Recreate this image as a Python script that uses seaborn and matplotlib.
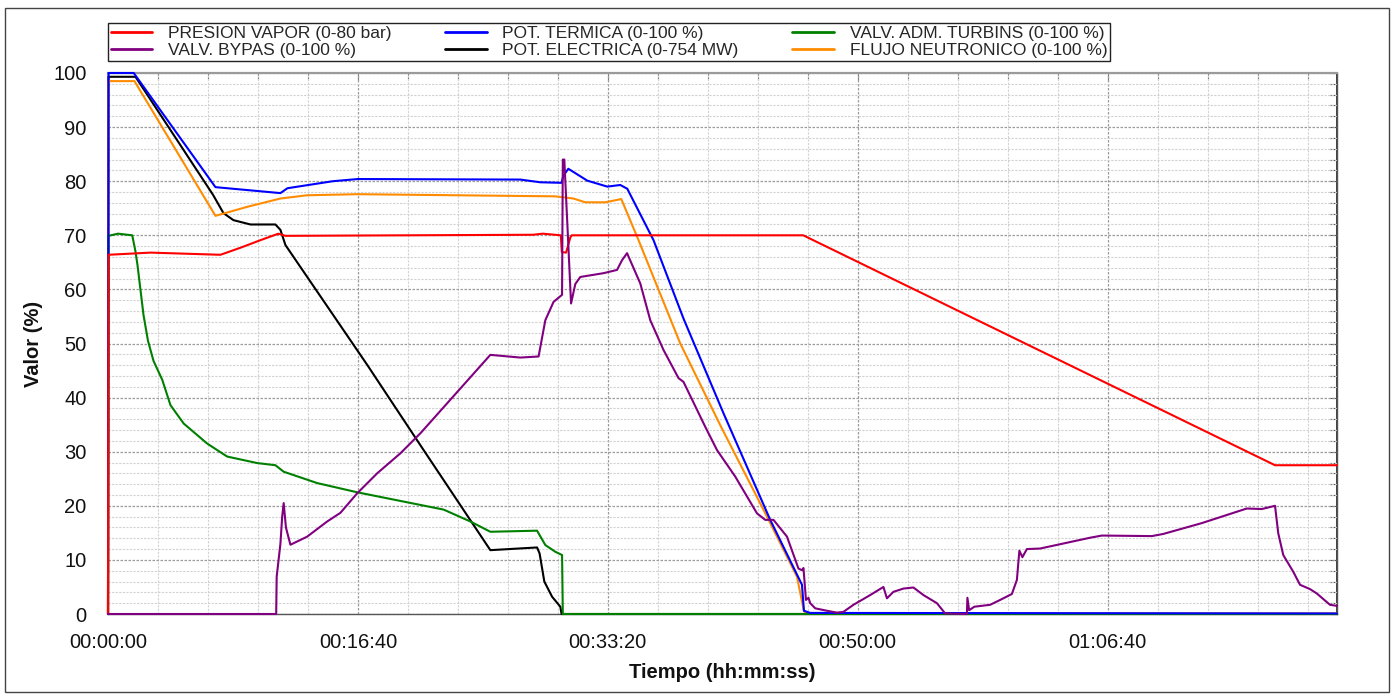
import matplotlib
matplotlib.use("Agg")
import matplotlib.pyplot as plt
import pandas as pd
import seaborn as sns
from matplotlib.ticker import MultipleLocator, FuncFormatter
from matplotlib.patches import Rectangle

# ---------------- data (time in s, value in %) ----------------
PRESION_VAPOR = [(0, 0), (2, 66.4), (170, 66.8), (450, 66.4), (530, 67.7), (610, 69.1),
                 (682, 70.3), (710, 69.9), (1700, 70.1), (1740, 70.3), (1812, 70.0),
                 (1816, 66.9), (1833, 66.8), (1850, 69.6), (1856, 70.0), (2782, 70.0),
                 (4670, 27.5), (4918, 27.5)]

POT_TERMICA = [(0, 0), (2, 100), (103, 100), (430, 78.9), (690, 77.8), (718, 78.7),
               (900, 80.0), (1000, 80.4), (1650, 80.3), (1730, 79.8), (1815, 79.7),
               (1822, 81.0), (1842, 82.3), (1918, 80.1), (1998, 79.0), (2050, 79.3),
               (2078, 78.6), (2183, 69.1), (2303, 54.6), (2463, 37.1), (2650, 17.4),
               (2777, 5.4), (2785, 0.6), (2810, 0.2), (4918, 0.1)]

VALV_TURBINS = [(0, 0), (2, 69.9), (40, 70.3), (97, 70.0), (110, 67.0), (118, 64.5),
                (142, 55.3), (160, 50.5), (182, 46.8), (217, 43.3), (250, 38.6),
                (303, 35.2), (397, 31.5), (477, 29.1), (597, 27.9), (670, 27.5),
                (703, 26.3), (837, 24.2), (997, 22.5), (1170, 20.9), (1343, 19.3),
                (1450, 17.1), (1530, 15.2), (1717, 15.4), (1750, 12.75), (1790, 11.5),
                (1817, 10.9), (1820, 0), (4918, 0)]

VALV_BYPAS = [(0, 0), (673, 0), (675, 6.9), (690, 13.0), (697, 18.0), (703, 20.5),
              (712, 16.0), (730, 12.8), (797, 14.3), (877, 17.1), (930, 18.7),
              (997, 22.3), (1077, 26.0), (1170, 29.7), (1250, 33.4), (1530, 47.9),
              (1650, 47.4), (1723, 47.6), (1750, 54.3), (1783, 57.7), (1817, 59.0),
              (1820, 84.0), (1826, 84.0), (1853, 57.4), (1870, 61.0), (1890, 62.3),
              (1983, 63.0), (2037, 63.6), (2057, 65.4), (2077, 66.7), (2130, 61.1),
              (2170, 54.3), (2223, 48.8), (2283, 43.6), (2303, 42.9), (2390, 34.6),
              (2437, 30.3), (2510, 25.4), (2597, 18.6), (2630, 17.4), (2663, 17.4),
              (2717, 14.3), (2763, 8.4), (2777, 8.1), (2783, 8.5), (2793, 2.6),
              (2803, 3.0), (2810, 2.0), (2830, 1.05), (2877, 0.6), (2917, 0.25),
              (2943, 0.4), (2983, 1.7), (3050, 3.5), (3103, 5.0), (3117, 2.9),
              (3143, 4.1), (3183, 4.7), (3223, 4.9), (3263, 3.5), (3317, 2.0),
              (3350, 0.1), (3437, 0.0), (3439, 3.0), (3446, 0.7), (3467, 1.35),
              (3530, 1.7), (3570, 2.6), (3617, 3.7), (3637, 6.3), (3647, 11.7),
              (3659, 10.5), (3677, 12.0), (3730, 12.1), (3930, 14.1), (3977, 14.5),
              (4177, 14.4), (4223, 14.8), (4377, 16.8), (4477, 18.3), (4557, 19.5),
              (4617, 19.4), (4670, 20.0), (4683, 14.9), (4703, 10.9), (4743, 7.8),
              (4770, 5.4), (4810, 4.6), (4837, 3.8), (4890, 1.7), (4918, 1.5)]

POT_ELECTRICA = [(0, 0), (2, 99.3), (110, 99.3), (420, 77.5), (462, 74.1), (502, 72.8),
                 (570, 72.0), (670, 72.0), (690, 71.0), (710, 68.2), (1038, 46.0),
                 (1250, 31.2), (1530, 11.8), (1717, 12.3), (1727, 11.2), (1746, 6.0),
                 (1777, 3.2), (1810, 1.35), (1815, 0), (4918, 0)]

FLUJO_NEUTRONICO = [(0, 0), (2, 98.5), (106, 98.5), (430, 73.6), (560, 75.3), (690, 76.8),
                    (797, 77.4), (1000, 77.6), (1790, 77.2), (1862, 76.8), (1910, 76.1),
                    (1990, 76.1), (2054, 76.7), (2123, 69.1), (2290, 50.0), (2450, 34.9),
                    (2637, 18.0), (2757, 6.9), (2785, 0.5), (2800, 0.1), (4918, 0.1)]

LABELS = {
    "pv": "PRESION VAPOR (0-80 bar)",
    "bp": "VALV. BYPAS (0-100 %)",
    "pt": "POT. TERMICA (0-100 %)",
    "pe": "POT. ELECTRICA (0-754 MW)",
    "vt": "VALV. ADM. TURBINS (0-100 %)",
    "fn": "FLUJO NEUTRONICO (0-100 %)",
}

# draw order (bottom -> top)
series = [
    ("pe", POT_ELECTRICA, "#000000"),
    ("fn", FLUJO_NEUTRONICO, "#ff8c00"),
    ("vt", VALV_TURBINS, "#008000"),
    ("pt", POT_TERMICA, "#0000ff"),
    ("pv", PRESION_VAPOR, "#ff0000"),
    ("bp", VALV_BYPAS, "#800080"),
]
legend_order = ["pv", "bp", "pt", "pe", "vt", "fn"]

sns.set_theme(style="white")
plt.rcParams["font.family"] = ["Liberation Sans", "DejaVu Sans"]

W, H = 1397, 694
fig = plt.figure(figsize=(W / 100, H / 100), dpi=100)
L, R, T, B = 108, 1337, 73, 614
ax = fig.add_axes([L / W, 1 - B / H, (R - L) / W, (B - T) / H])

handles = {}
for i, (key, data, color) in enumerate(series):
    df = pd.DataFrame(data, columns=["t", "v"])
    sns.lineplot(data=df, x="t", y="v", ax=ax, color=color, linewidth=1.5,
                 estimator=None, sort=False, label=LABELS[key], clip_on=False,
                 zorder=3 + i * 0.1)
    handles[key] = ax.get_lines()[-1]

if ax.get_legend() is not None:
    ax.get_legend().remove()

ax.set_xlim(0, 4918)
ax.set_ylim(0, 100)
ax.xaxis.set_major_locator(MultipleLocator(1000))
ax.xaxis.set_minor_locator(MultipleLocator(200))
ax.yaxis.set_major_locator(MultipleLocator(10))
ax.yaxis.set_minor_locator(MultipleLocator(2))


def hms(x, pos):
    s = int(round(x))
    return f"{s // 3600:02d}:{(s % 3600) // 60:02d}:{s % 60:02d}"


ax.xaxis.set_major_formatter(FuncFormatter(hms))

ax.grid(which="minor", color="#d2d2d2", linestyle=(0, (2, 1.2)), linewidth=0.8)
ax.grid(which="major", color="#9c9c9c", linestyle=(0, (2, 1.2)), linewidth=0.9)
ax.set_axisbelow(True)

ax.tick_params(axis="x", which="major", direction="inout", length=9, width=1,
               color="#333333", labelsize=14.5, pad=9, labelcolor="#111111")
ax.tick_params(axis="y", which="major", direction="inout", length=9, width=1,
               color="#333333", labelsize=14.5, pad=11, labelcolor="#111111")
ax.tick_params(which="minor", direction="inout", length=5, width=0.8, color="#333333")

for side in ["left", "bottom", "right"]:
    ax.spines[side].set_color("#555555")
    ax.spines[side].set_linewidth(1.0)
ax.spines["top"].set_color("#9a9a9a")
ax.spines["top"].set_linewidth(1.6)

secx = ax.secondary_xaxis("top")
secx.xaxis.set_major_locator(MultipleLocator(200))
secx.tick_params(direction="in", length=5, width=0.8, color="#777777", labeltop=False)
secx.set_xticklabels([])
secx.spines["top"].set_visible(False)
secy = ax.secondary_yaxis("right")
secy.yaxis.set_major_locator(MultipleLocator(2))
secy.tick_params(direction="in", length=5, width=0.8, color="#555555", labelright=False)
secy.set_yticklabels([])

ax.set_xlabel("Tiempo (hh:mm:ss)", fontsize=14.5, fontweight="bold", labelpad=8,
              color="#111111")
ax.set_ylabel("Valor (%)", fontsize=14.5, fontweight="bold", labelpad=7,
              color="#111111")

leg = fig.legend([handles[k] for k in legend_order], [LABELS[k] for k in legend_order],
                 ncol=3, loc="upper left", mode="expand",
                 bbox_to_anchor=(L / W, 1 - 23 / H, (1110 - L) / W, 0),
                 borderaxespad=0, fontsize=12.5, handlelength=2.4, handletextpad=0.9,
                 labelspacing=0.12, borderpad=0.15, frameon=True, fancybox=False,
                 framealpha=1, edgecolor="#222222")
leg.get_frame().set_linewidth(1.0)
for line in leg.get_lines():
    line.set_linewidth(2.0)

fig.add_artist(Rectangle((5 / W, 1 - 692 / H), (1389 - 5) / W, (692 - 8) / H,
                         transform=fig.transFigure, fill=False,
                         edgecolor="#444444", linewidth=1.0))

fig.savefig("out.png", dpi=100, facecolor="white")
